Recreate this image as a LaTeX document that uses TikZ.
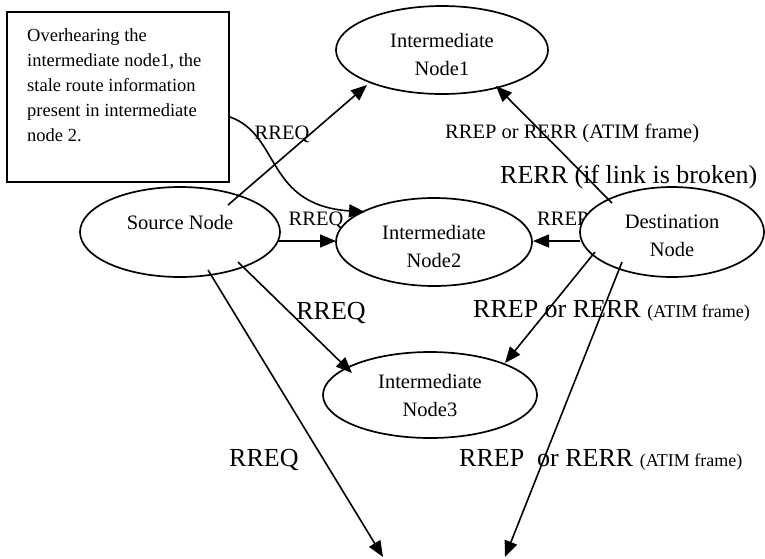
\documentclass[tikz,border=0pt]{standalone}
\usepackage{fontspec}
\setmainfont{Liberation Serif}
\usetikzlibrary{arrows.meta,shapes.geometric,calc}
\begin{document}
\begin{tikzpicture}[x=1pt,y=-1pt,
  ell/.style={draw,ellipse,line width=1.7pt,fill=white,inner sep=0pt},
  arr/.style={line width=1.6pt,-{Triangle[length=16pt,width=13pt]}},
  nt/.style={font=\fontsize{20.5}{28}\selectfont,align=center,inner sep=0pt},
  sl/.style={font=\fontsize{20.5}{25}\selectfont,inner sep=0pt},
  ll/.style={font=\fontsize{26}{30}\selectfont,inner sep=0pt},
  sm/.style={font=\fontsize{18}{20}\selectfont}
]
\useasboundingbox (0,0) rectangle (765,558);
% edge labels
\node[sl,anchor=base] (l1) at (282,139) {RREQ};
\node[sl,anchor=base west] (l2) at (445,138) {RREP or RERR (ATIM frame)};
\node[ll,anchor=base west] (l3) at (500,183) {RERR (if link is broken)};
\node[sl,anchor=base] (l4) at (316,225) {RREQ};
\node[sl,anchor=base west] (l5) at (537,225) {RREP};
\node[ll,anchor=base] (l6) at (331,319) {RREQ};
\node[ll,anchor=base west] (l7) at (473,317) {RREP or RERR {\fontsize{18}{20}\selectfont (ATIM frame)}};
\node[ll,anchor=base west] (l8) at (229,466) {RREQ};
\node[ll,anchor=base west] (l9) at (459,466) {RREP\ \ or RERR {\fontsize{18}{20}\selectfont (ATIM frame)}};
% note box
\node[draw,line width=1.9pt,minimum width=222pt,minimum height=170pt,inner sep=0pt] (box) at (118,97) {};
\node[font=\fontsize{18.5}{25}\selectfont,align=left,anchor=north west,inner sep=0pt] (boxt) at (27,28)
  {Overhearing the\\intermediate node1, the\\stale route information\\present in intermediate\\node 2.};
% ellipses
\node[ell,minimum width=212pt,minimum height=88pt] (n1) at (442,50) {};
\node[ell,minimum width=200pt,minimum height=90pt] (src) at (180,232) {};
\node[ell,minimum width=196pt,minimum height=88pt] (n2) at (434,242) {};
\node[ell,minimum width=184pt,minimum height=90pt] (dst) at (672,232) {};
\node[ell,minimum width=214pt,minimum height=86pt] (n3) at (430,395) {};
% node texts
\node[nt] (t1) at (442,54) {Intermediate\\Node1};
\node[nt] (ts) at (180,222) {Source Node};
\node[nt] (t2) at (434,246) {Intermediate\\Node2};
\node[nt] (td) at (672,236) {Destination\\Node};
\node[nt] (t3) at (430,395) {Intermediate\\Node3};
% connectors
\coordinate (b1) at (383,557);
\coordinate (b2) at (505,557);
\draw[arr] ($(src)+(48,-27)$) -- ($(n1)+(-75,35)$);
\draw[arr] ($(src)+(98,9)$) -- ($(n2)+(-98,-1)$);
\draw[arr] ($(box.east)+(0,20)$) .. controls ($(box.east)+(51,38)$) and ($(n2)+(-169,-37)$) .. ($(n2)+(-69,-30)$);
\draw[arr] ($(dst)+(-60,-29)$) -- ($(n1)+(54,36)$);
\draw[arr] ($(dst)+(-92,9)$) -- ($(n2)+(99,-1)$);
\draw[arr] ($(dst)+(-77,20)$) -- ($(n3)+(75,-32)$);
\draw[arr] ($(src)+(58,30)$) -- ($(n3)+(-78,-22)$);
\draw[arr] ($(src)+(28,38)$) -- (b1);
\draw[arr] ($(dst)+(-50,30)$) -- (b2);
\end{tikzpicture}
\end{document}
